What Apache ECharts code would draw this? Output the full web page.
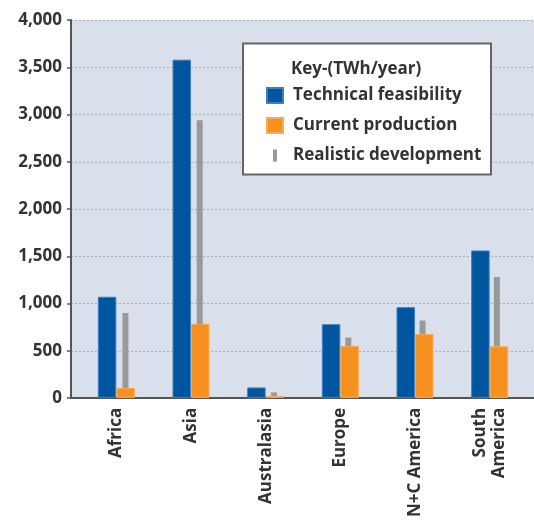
<!DOCTYPE html>
<html>
<head>
<meta charset="utf-8">
<script src="https://cdn.jsdelivr.net/npm/echarts@6/dist/echarts.min.js"></script>
<style>html,body{margin:0;padding:0;background:#fff}#c{width:534px;height:520px}</style>
</head>
<body>
<div id="c"></div>
<script>
const categories = ['Africa', 'Asia', 'Australasia', 'Europe', 'N+C America', 'South\nAmerica'];
const technicalFeasibility = [1070, 3580, 110, 780, 960, 1560];
const currentProduction = [105, 785, 20, 550, 675, 545];
const realisticDevelopment = [900, 2940, 60, 640, 820, 1280];
const yTicks = [0, 500, 1000, 1500, 2000, 2500, 3000, 3500, 4000];

const FONT = '"Open Sans", "DejaVu Sans", sans-serif';
const chart = echarts.init(document.getElementById('c'), null, {renderer: 'canvas'});
const TOP = 20, BOTTOM = 122;
const yMax = yTicks[yTicks.length - 1];
const yStep = yTicks[1] - yTicks[0];

chart.setOption({
  animation: false,
  grid: [
    {left: 71, right: 0, top: TOP, bottom: BOTTOM, show: true, backgroundColor: '#d9e0ec', borderWidth: 0},
    {left: 79, width: 448, top: TOP, bottom: BOTTOM},
    {left: 88.3, width: 448, top: TOP, bottom: BOTTOM}
  ],
  xAxis: [
    {gridIndex: 0, type: 'value', min: 0, max: 1, axisLabel: {show: false}, axisTick: {show: false}, splitLine: {show: false},
     axisLine: {show: true, lineStyle: {color: '#555', width: 2}}},
    {gridIndex: 1, type: 'category', data: categories, axisLine: {show: false}, axisTick: {show: false},
     axisLabel: {rotate: 90, margin: 10, fontFamily: FONT, fontSize: 17, fontWeight: 'bold', color: '#333', lineHeight: 19, interval: 0}},
    {gridIndex: 2, type: 'category', data: categories, show: false}
  ],
  yAxis: [
    {gridIndex: 0, type: 'value', min: 0, max: yMax, interval: yStep,
     axisLine: {show: true, lineStyle: {color: '#555', width: 2}},
     axisTick: {show: true, length: 4, lineStyle: {color: '#555', width: 1.5}},
     splitLine: {show: true, lineStyle: {color: '#a9b0be', type: [2, 2], width: 1}},
     axisLabel: {margin: 9, fontFamily: FONT, fontSize: 17, fontWeight: 'bold', color: '#333',
       formatter: v => v.toLocaleString('en-US')}},
    {gridIndex: 1, type: 'value', min: 0, max: yMax, show: false, splitLine: {show: false}},
    {gridIndex: 2, type: 'value', min: 0, max: yMax, show: false, splitLine: {show: false}}
  ],
  legend: {
    left: 266, top: 87, orient: 'vertical', itemWidth: 16, itemHeight: 15, itemGap: 13, z: 200, padding: 0,
    textStyle: {fontFamily: FONT, fontSize: 17, fontWeight: 'bold', color: '#333', lineHeight: 16, padding: [0, 0, 0, 5]},
    data: [
      {name: 'Technical feasibility', icon: 'rect'},
      {name: 'Current production', icon: 'rect'},
      {name: 'Realistic development', icon: 'path://M6,1.5h4v12h-4z M0,0h0.01v0.01h-0.01z M16,15h0.01v0.01h-0.01z'}
    ]
  },
  graphic: [
    {type: 'rect', z: 100, shape: {x: 243, y: 43.5, width: 248, height: 131},
     style: {fill: '#fff', stroke: '#666', lineWidth: 2}},
    {type: 'text', z: 201, x: 291, y: 69, style: {text: 'Key-(TWh/year)', fill: '#333', font: 'bold 17px ' + FONT, verticalAlign: 'middle'}}
  ],
  series: [
    {name: 'Technical feasibility', type: 'bar', xAxisIndex: 1, yAxisIndex: 1, data: technicalFeasibility,
     barWidth: 18.5, barGap: 0, z: 3, itemStyle: {color: '#00569e', borderColor: '#3f7fbd', borderWidth: 1}},
    {name: 'Current production', type: 'bar', xAxisIndex: 1, yAxisIndex: 1, data: currentProduction,
     barWidth: 18.5, barGap: 0, z: 3, itemStyle: {color: '#f6901e', borderColor: '#f9ab55', borderWidth: 1}},
    {name: 'Realistic development', type: 'bar', xAxisIndex: 2, yAxisIndex: 2, data: realisticDevelopment,
     barWidth: 6, z: 2, itemStyle: {color: '#999999'}}
  ]
});
</script>
</body>
</html>
